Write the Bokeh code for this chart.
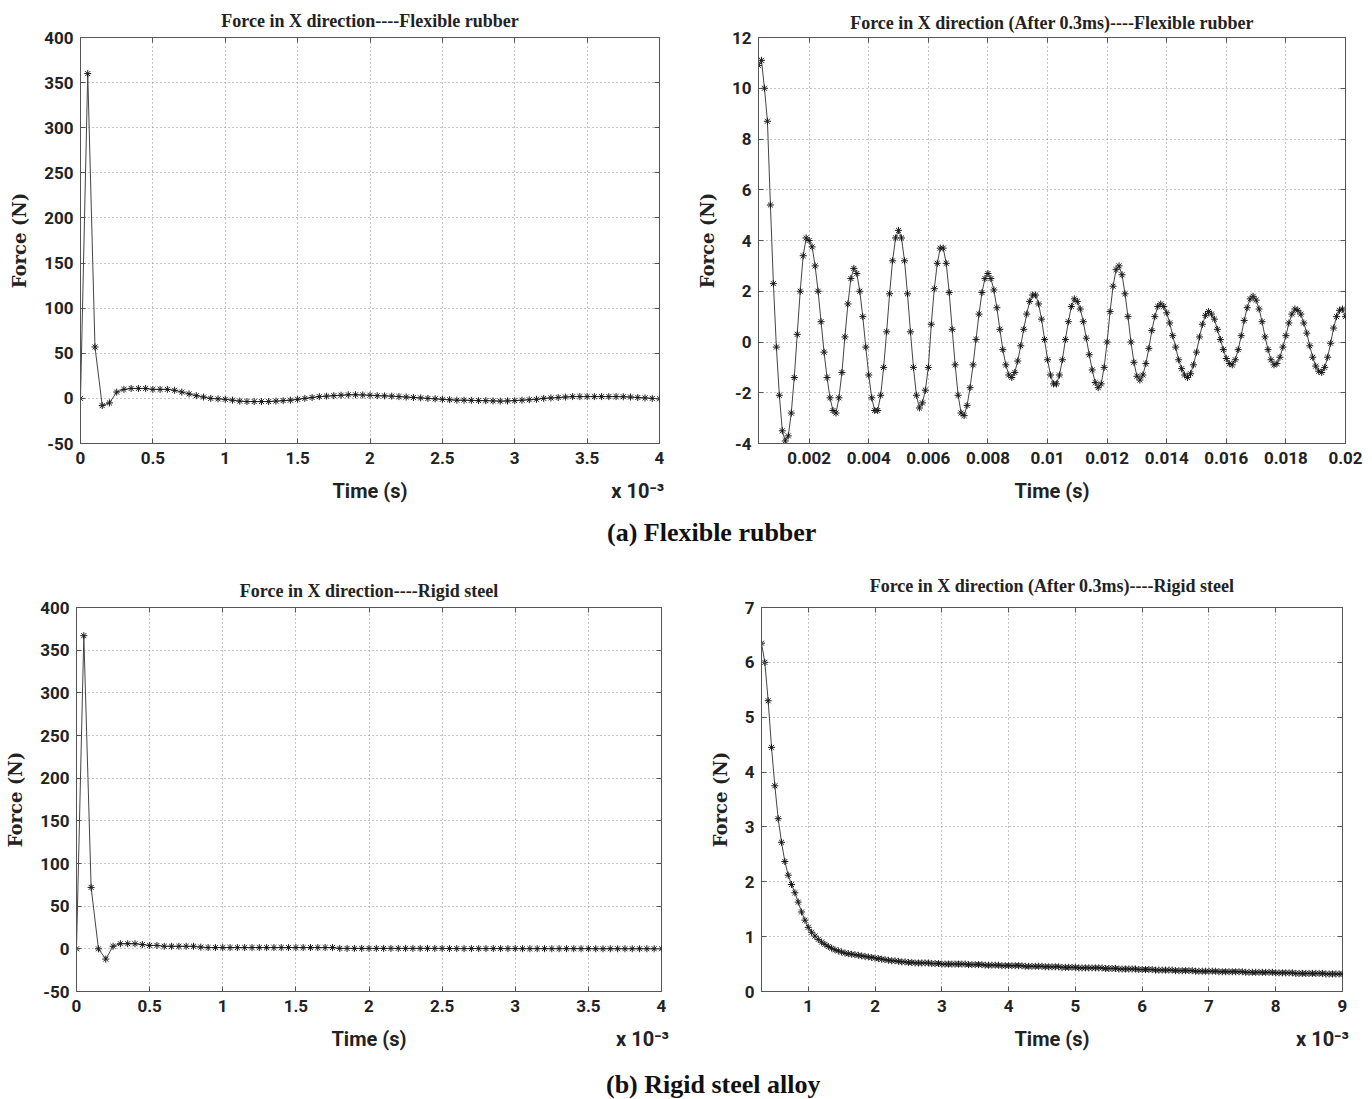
import json
import numpy as np
from bokeh.plotting import figure
from bokeh.layouts import row, column
from bokeh.models import Div, LinearAxis, FixedTicker, CustomJSTickFormatter, Range1d
from bokeh.embed import file_html
from bokeh.resources import INLINE

# ---------------- data ----------------
# (a) Flexible rubber, 0-4 ms, time in ms (axis x 10^-3 s)
rubber_full_force = [0, 360, 57, -8, -5, 7, 10, 11, 11, 11,
                     10, 10, 10, 9, 7, 5, 3, 1.5, 0, -0.5,
                     -1, -2, -3, -3.5, -3.5, -3.5, -3.5, -3, -2.5, -2,
                     -1, 0, 1, 2, 2.5, 3, 3.5, 4, 4, 3.8,
                     3.5, 3, 2.8, 2.5, 2, 1.5, 1, 0.5, 0, -0.5,
                     -1, -1.5, -2, -2, -2.2, -2.5, -2.5, -2.8, -3, -2.8,
                     -2.5, -2, -1.5, -1, 0, 0.5, 1, 1.5, 2, 2,
                     2, 2, 2, 2, 2, 1.8, 1.5, 1, 0.5, 0,
                     -0.5]
rubber_full_time_ms = np.round(np.arange(len(rubber_full_force)) * 0.05, 2)

# (a) Flexible rubber after 0.3 ms, 0.3-20 ms (axis in s)
rubber_after_force = [
    10.9, 11.1, 10.0, 8.7, 5.4, 2.3, -0.2,
    -2.1, -3.5, -3.9, -3.7, -2.8, -1.4, 0.3, 2.0, 3.4, 4.1,
    4.0, 3.75, 3.0, 2.0, 0.8, -0.4, -1.4, -2.2, -2.7, -2.8,
    -2.2, -1.2, 0.2, 1.5, 2.5, 2.9, 2.7, 2.0, 1.0, -0.2,
    -1.3, -2.2, -2.7, -2.7, -2.1, -1.0, 0.4, 1.9, 3.2, 4.1,
    4.4, 4.1, 3.2, 1.9, 0.4, -1.0, -2.1, -2.6, -2.4, -1.9,
    -1.0, 0.7, 2.1, 3.1, 3.7, 3.7, 3.1, 1.95, 0.5, -0.9,
    -2.1, -2.8, -2.9, -2.5, -1.8, -0.9, 0.1, 1.1, 1.95, 2.5,
    2.7, 2.5, 2.05, 1.35, 0.5, -0.3, -0.9, -1.3, -1.4, -1.2,
    -0.75, -0.15, 0.5, 1.1, 1.6, 1.85, 1.85, 1.5, 0.9, 0.1,
    -0.7, -1.3, -1.65, -1.65, -1.3, -0.7, 0.1, 0.8, 1.4, 1.7,
    1.6, 1.3, 0.8, 0.15, -0.5, -1.1, -1.6, -1.8, -1.65, -1.0,
    0.0, 1.2, 2.2, 2.85, 3.0, 2.65, 1.9, 1.0, 0.0, -0.8,
    -1.35, -1.5, -1.3, -0.85, -0.25, 0.45, 1.0, 1.4, 1.5, 1.4,
    1.15, 0.75, 0.25, -0.2, -0.7, -1.05, -1.3, -1.4, -1.25, -0.9,
    -0.4, 0.2, 0.7, 1.05, 1.2, 1.1, 0.9, 0.5, 0.1, -0.3,
    -0.65, -0.85, -0.9, -0.7, -0.3, 0.25, 0.85, 1.35, 1.7, 1.8,
    1.65, 1.3, 0.8, 0.2, -0.3, -0.7, -0.9, -0.85, -0.6, -0.2,
    0.25, 0.75, 1.1, 1.3, 1.25, 1.1, 0.75, 0.35, -0.15, -0.6,
    -0.95, -1.15, -1.2, -1.0, -0.6, -0.05, 0.55, 1.0, 1.25, 1.3,
    1.0]
rubber_after_time_s = np.round((0.3 + np.arange(len(rubber_after_force)) * 0.1) * 1e-3, 6)

# (b) Rigid steel, 0-4 ms
steel_full_force = [0, 367, 72, 0, -12, 3, 6, 6, 6, 5,
                    4, 4, 3, 3, 3, 3, 3, 2,
                    1.5, 1.5, 1.5, 1.5, 1.5, 1.5, 1.5, 1.5, 1.5,
                    1.5, 1.5, 1.5, 1.5, 1.5, 1.5, 1.5, 1.5, 1.5,
                    0.5, 0.5, 0.5, 0.5, 0.5, 0.5, 0.5, 0.5, 0.5, 0.5,
                    0.5, 0.5, 0.5, 0.5, 0.5, 0.3, 0.3, 0.3, 0.3, 0.3,
                    0.3, 0.3, 0.3, 0.3, 0.3, 0.2, 0.2, 0.2, 0.2, 0.2,
                    0.2, 0.2, 0.2, 0.2, 0.2, 0.1, 0.1, 0.1, 0.1, 0.1,
                    0.1, 0.1, 0.1, 0.1, 0.1]
steel_full_time_ms = np.round(np.arange(len(steel_full_force)) * 0.05, 2)

# (b) Rigid steel after 0.3 ms, 0.3-9 ms
steel_after_force = [
    6.35, 6.0, 5.3, 4.45, 3.75, 3.15, 2.72, 2.37, 2.12, 1.95,
    1.80, 1.63, 1.45, 1.30, 1.17, 1.08, 1.01, 0.95, 0.90, 0.86,
    0.82, 0.79, 0.76, 0.74, 0.72, 0.70, 0.69, 0.68, 0.67, 0.66,
    0.65, 0.64, 0.63, 0.62, 0.61, 0.60, 0.59, 0.58, 0.57, 0.56,
    0.56, 0.55, 0.54, 0.54, 0.53, 0.53, 0.52, 0.52, 0.52, 0.52,
    0.52, 0.51, 0.51, 0.51, 0.50, 0.50, 0.50, 0.50, 0.50, 0.50,
    0.50, 0.50, 0.49, 0.49, 0.49, 0.49, 0.49, 0.48, 0.48, 0.48,
    0.48, 0.48, 0.47, 0.47, 0.47, 0.47, 0.47, 0.47, 0.47, 0.46,
    0.46, 0.46, 0.46, 0.46, 0.46, 0.45, 0.45, 0.45, 0.45, 0.45,
    0.44, 0.44, 0.44, 0.44, 0.44, 0.43, 0.43, 0.43, 0.43, 0.43,
    0.43, 0.43, 0.43, 0.42, 0.42, 0.42, 0.42, 0.41, 0.41, 0.41,
    0.41, 0.41, 0.41, 0.40, 0.40, 0.40, 0.40, 0.40, 0.39, 0.39,
    0.39, 0.39, 0.39, 0.39, 0.38, 0.38, 0.38, 0.38, 0.38, 0.38,
    0.37, 0.37, 0.37, 0.37, 0.37, 0.37, 0.37, 0.36, 0.36, 0.36,
    0.36, 0.36, 0.36, 0.36, 0.36, 0.35, 0.35, 0.35, 0.35, 0.35,
    0.35, 0.35, 0.35, 0.35, 0.34, 0.34, 0.34, 0.34, 0.34, 0.34,
    0.33, 0.33, 0.33, 0.33, 0.33, 0.33, 0.33, 0.33, 0.33, 0.32,
    0.32, 0.32, 0.32, 0.32, 0.32]
steel_after_time_ms = np.round(0.3 + np.arange(len(steel_after_force)) * 0.05, 2)

# ticks
ms4_ticks = [0, 0.5, 1, 1.5, 2, 2.5, 3, 3.5, 4]
force400_ticks = [-50, 0, 50, 100, 150, 200, 250, 300, 350, 400]
s20_ticks = [0.002, 0.004, 0.006, 0.008, 0.01, 0.012, 0.014, 0.016, 0.018, 0.02]
force12_ticks = [-4, -2, 0, 2, 4, 6, 8, 10, 12]
ms9_ticks = [1, 2, 3, 4, 5, 6, 7, 8, 9]
force7_ticks = [0, 1, 2, 3, 4, 5, 6, 7]

titles = ["Force in X direction----Flexible rubber",
          "Force in X direction (After 0.3ms)----Flexible rubber",
          "Force in X direction----Rigid steel",
          "Force in X direction (After 0.3ms)----Rigid steel"]
x_label = "Time (s)"
y_label = "Force (N)"
exp_text = "x 10\u207b\u00b3"
captions = ["(a) Flexible rubber", "(b) Rigid steel alloy"]

# ---------------- style ----------------
NARROW = "'Liberation Sans Narrow', 'Arial Narrow', Roboto, sans-serif"
SERIF = "'Liberation Serif', 'Times New Roman', serif"
YLAB = "'DejaVu Serif', serif"
INK = "#222222"


def tick_only_axis(ticks):
    # mirror axis on the top/right frame edge: inward ticks, no labels
    return LinearAxis(ticker=FixedTicker(ticks=ticks),
                      formatter=CustomJSTickFormatter(code="return ''"),
                      major_label_text_font_size="1px", major_label_standoff=0,
                      major_tick_in=5, major_tick_out=0,
                      major_tick_line_color="#555555", minor_tick_line_color=None,
                      axis_line_color=None)


def make_fig(w, h, xr, yr, xticks, yticks, title, bl, br, bt, bb, tstand, xcode, exp_x):
    p = figure(width=w, height=h, x_range=Range1d(*xr), y_range=Range1d(*yr),
               output_backend="svg", toolbar_location=None,
               min_border_left=bl, min_border_right=br, min_border_top=bt, min_border_bottom=bb,
               background_fill_color="white", border_fill_color="white")
    p.title.text = title
    p.title.text_font = SERIF
    p.title.text_font_size = "18px"
    p.title.text_font_style = "bold"
    p.title.text_color = INK
    p.title.align = "center"
    p.title.vertical_align = "top"
    p.title.standoff = tstand
    p.outline_line_color = "#555555"
    p.outline_line_width = 1
    p.xaxis.ticker = FixedTicker(ticks=xticks)
    p.yaxis.ticker = FixedTicker(ticks=yticks)
    p.xgrid.ticker = FixedTicker(ticks=xticks)
    p.ygrid.ticker = FixedTicker(ticks=yticks)
    p.xaxis.formatter = CustomJSTickFormatter(code=xcode)
    p.yaxis.formatter = CustomJSTickFormatter(code="return String(tick)")
    for ax in (p.xaxis, p.yaxis):
        ax.major_tick_in = 5
        ax.major_tick_out = 0
        ax.minor_tick_line_color = None
        ax.axis_line_color = "#555555"
        ax.major_tick_line_color = "#555555"
        ax.major_label_text_font = NARROW
        ax.major_label_text_font_size = "17px"
        ax.major_label_text_font_style = "bold"
        ax.major_label_text_color = INK
    p.xaxis.major_label_standoff = 8
    p.yaxis.major_label_standoff = 7
    p.yaxis.axis_label = y_label
    p.yaxis.axis_label_text_font = YLAB
    p.yaxis.axis_label_text_font_size = "18px"
    p.yaxis.axis_label_text_font_style = "bold"
    p.yaxis.axis_label_text_color = INK
    p.yaxis.axis_label_standoff = 11
    p.grid.grid_line_color = "#8a8a8a"
    p.grid.grid_line_dash = "1 3"
    p.grid.grid_line_width = 1

    # second (label-only) axis below: carries "Time (s)" and the x 10^-3 multiplier
    pos = [(xr[0] + xr[1]) / 2.0]
    labels = [x_label]
    if exp_x is not None:
        pos.append(exp_x)
        labels.append(exp_text)
    ax2 = LinearAxis(ticker=FixedTicker(ticks=pos),
                     formatter=CustomJSTickFormatter(code="const L = %s; return L[index];" % json.dumps(labels)),
                     axis_line_color=None, major_tick_line_color=None, minor_tick_line_color=None,
                     major_label_text_font=NARROW, major_label_text_font_size="20px",
                     major_label_text_font_style="bold", major_label_text_color=INK,
                     major_label_standoff=6)
    p.add_layout(ax2, "below")
    p.add_layout(tick_only_axis(xticks), "above")
    p.add_layout(tick_only_axis(yticks), "right")
    return p


def draw(p, t, f):
    p.line(t, f, line_color="#444444", line_width=1)
    p.scatter(t, f, marker="asterisk", size=7, line_color="#1a1a1a", line_width=1)


ms_code = "return String(tick)"
s_code = "return String(Math.round(tick*10000)/10000)"

p1 = make_fig(680, 515, (0, 4), (-50, 400), ms4_ticks, force400_ticks, titles[0],
              80, 21, 33, 72, 10, ms_code, 3.85)
draw(p1, rubber_full_time_ms, rubber_full_force)

p2 = make_fig(692, 515, (0.0003, 0.02), (-4, 12), s20_ticks, force12_ticks, titles[1],
              78, 27, 37, 72, 6, s_code, None)
draw(p2, rubber_after_time_s, rubber_after_force)

p3 = make_fig(680, 513, (0, 4), (-50, 400), ms4_ticks, force400_ticks, titles[2],
              76, 19, 52, 77, 10, ms_code, 3.87)
draw(p3, steel_full_time_ms, steel_full_force)

p4 = make_fig(692, 513, (0.3, 9), (0, 7), ms9_ticks, force7_ticks, titles[3],
              81, 30, 45, 77, 20, ms_code, 8.7)
draw(p4, steel_after_time_ms, steel_after_force)

cap_style = {"font-family": SERIF, "font-weight": "bold", "font-size": "26px",
             "color": "#111111", "text-align": "left"}
d1 = Div(text=captions[0], width=1372, height=40, margin=0,
         styles=dict(cap_style, **{"line-height": "36px", "text-indent": "607px"}))
d2 = Div(text=captions[1], width=1372, height=30, margin=0,
         styles=dict(cap_style, **{"line-height": "34px", "text-indent": "606px"}))

layout = column(row(p1, p2, spacing=0), d1, row(p3, p4, spacing=0), d2, spacing=0)

open("out.html", "w").write(file_html(layout, INLINE))
